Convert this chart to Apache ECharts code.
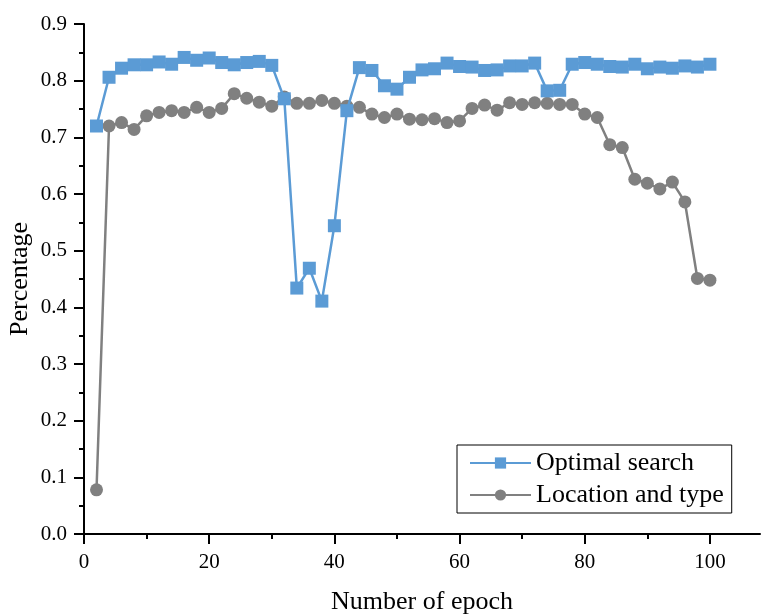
<!DOCTYPE html>
<html>
<head>
<meta charset="utf-8">
<script src="https://cdn.jsdelivr.net/npm/echarts@6/dist/echarts.min.js"></script>
<style>
  html, body { margin: 0; padding: 0; background: #fff; }
  #chart { width: 761px; height: 614px; }
</style>
</head>
<body>
<div id="chart"></div>
<script>
const epochs = [2, 4, 6, 8, 10, 12, 14, 16, 18, 20, 22, 24, 26, 28, 30, 32, 34, 36, 38, 40,
  42, 44, 46, 48, 50, 52, 54, 56, 58, 60, 62, 64, 66, 68, 70, 72, 74, 76, 78, 80,
  82, 84, 86, 88, 90, 92, 94, 96, 98, 100];

const optimalSearch = [0.720, 0.806, 0.822, 0.828, 0.828, 0.833, 0.829, 0.841, 0.836, 0.840,
  0.832, 0.828, 0.832, 0.834, 0.827, 0.768, 0.434, 0.469, 0.411, 0.544,
  0.747, 0.823, 0.818, 0.791, 0.785, 0.806, 0.819, 0.821, 0.831, 0.825,
  0.824, 0.818, 0.819, 0.826, 0.826, 0.831, 0.782, 0.783, 0.829, 0.832,
  0.829, 0.825, 0.824, 0.829, 0.821, 0.824, 0.822, 0.826, 0.824, 0.829];

const locationAndType = [0.078, 0.720, 0.726, 0.714, 0.738, 0.744, 0.747, 0.744, 0.753, 0.744,
  0.751, 0.777, 0.769, 0.762, 0.755, 0.771, 0.760, 0.760, 0.765, 0.760,
  0.755, 0.753, 0.741, 0.735, 0.741, 0.732, 0.731, 0.733, 0.726, 0.729,
  0.751, 0.757, 0.748, 0.761, 0.758, 0.761, 0.760, 0.758, 0.758, 0.741,
  0.735, 0.687, 0.682, 0.626, 0.619, 0.609, 0.621, 0.586, 0.451, 0.448];

const xMajorTicks = [0, 20, 40, 60, 80, 100];
const xMinorTicks = [10, 30, 50, 70, 90];

const font = "'Liberation Serif', 'Times New Roman', serif";
const blue = "#5B9BD5";
const grey = "#808080";

const chart = echarts.init(document.getElementById("chart"), null, { renderer: "canvas" });

chart.setOption({
  animation: false,
  grid: { left: 84, right: 1, top: 24, bottom: 80, containLabel: false, outerBoundsMode: "none" },
  legend: {
    orient: "vertical",
    left: 457,
    top: 445,
    data: ["Optimal search", "Location and type"],
    borderColor: "#000",
    borderWidth: 1,
    borderRadius: 0,
    padding: [5, 8, 5, 12],
    itemWidth: 61,
    itemHeight: 14,
    itemGap: 6,
    textStyle: { fontFamily: font, fontSize: 26, color: "#000" },
  },
  xAxis: [
    {
      type: "value",
      min: 0,
      max: 108,
      interval: 20,
      name: "Number of epoch",
      nameLocation: "middle",
      nameGap: 55,
      nameMoveOverlap: false,
      nameTextStyle: { fontFamily: font, fontSize: 26, color: "#000" },
      axisLine: { lineStyle: { color: "#000", width: 2 } },
      axisTick: { customValues: xMajorTicks, length: 10, lineStyle: { color: "#000", width: 2 } },
      axisLabel: {
        customValues: xMajorTicks,
        fontFamily: font, fontSize: 21, color: "#000", margin: 18,
      },
      splitLine: { show: false },
    },
    {
      type: "value",
      min: 0,
      max: 108,
      position: "bottom",
      axisLine: { show: false },
      axisTick: { customValues: xMinorTicks, length: 5, lineStyle: { color: "#000", width: 2 } },
      axisLabel: { show: false },
      splitLine: { show: false },
    },
  ],
  yAxis: {
    type: "value",
    min: 0,
    max: 0.9,
    interval: 0.1,
    name: "Percentage",
    nameLocation: "middle",
    nameGap: 51,
    nameMoveOverlap: false,
    nameTextStyle: { fontFamily: font, fontSize: 26, color: "#000" },
    axisLine: { show: true, lineStyle: { color: "#000", width: 2 } },
    axisTick: { show: true, length: 10, lineStyle: { color: "#000", width: 2 } },
    minorTick: { show: true, splitNumber: 2, length: 5, lineStyle: { color: "#000", width: 2 } },
    axisLabel: {
      fontFamily: font, fontSize: 21, color: "#000", margin: 17,
      formatter: (v) => v.toFixed(1),
    },
    splitLine: { show: false },
  },
  series: [
    {
      name: "Optimal search",
      type: "line",
      data: epochs.map((e, i) => [e, optimalSearch[i]]),
      symbol: "rect",
      symbolSize: 13,
      itemStyle: { color: blue },
      lineStyle: { color: blue, width: 2.5 },
      z: 3,
    },
    {
      name: "Location and type",
      type: "line",
      data: epochs.map((e, i) => [e, locationAndType[i]]),
      symbol: "circle",
      symbolSize: 13,
      itemStyle: { color: grey },
      lineStyle: { color: grey, width: 2.5 },
      z: 2,
    },
  ],
});
</script>
</body>
</html>
